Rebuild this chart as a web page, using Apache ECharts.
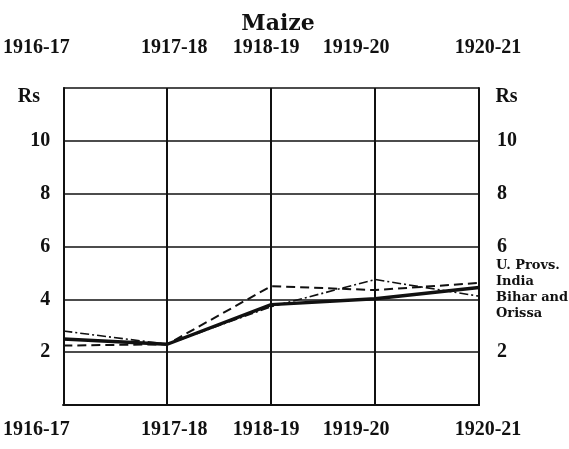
<!DOCTYPE html>
<html>
<head>
<meta charset="utf-8">
<script src="https://cdn.jsdelivr.net/npm/echarts@6/dist/echarts.min.js"></script>
<style>
html,body{margin:0;padding:0;background:#fff;}
#chart{width:569px;height:449px;}
</style>
</head>
<body>
<div id="chart"></div>
<script>
// ---- data ----
const titleText = 'Maize';
const years = ['1916-17', '1917-18', '1918-19', '1919-20', '1920-21'];
const unitLabel = 'Rs';
const seriesNames = ['U. Provs.', 'India', 'Bihar and\nOrissa'];
const uProvs = [2.25, 2.3, 4.5, 4.35, 4.62];
const india = [2.5, 2.3, 3.8, 4.02, 4.45];
const biharOrissa = [2.8, 2.3, 3.72, 4.75, 4.12];
const yTicks = [0, 2, 4, 6, 8, 10, 12];

// ---- styling helpers ----
const FONT = '"Liberation Serif", "DejaVu Serif", serif';
const INK = '#111';
// label nudges: [top, right, bottom, left] padding per label
const labelPad = [[0, 54, 0, 0], [0, 0, 0, 14], [0, 10, 0, 0], [0, 38, 0, 0], [0, 0, 0, 18]];
const rich = {};
years.forEach((y, i) => {
  rich['s' + i] = {padding: labelPad[i], fontFamily: FONT, fontWeight: 'bold', fontSize: 20, color: INK};
});
function yearFmt(v, i) { return '{s' + i + '|' + v + '}'; }

const chart = echarts.init(document.getElementById('chart'), null, {renderer: 'canvas'});
const baseX = {
  type: 'category',
  data: years,
  boundaryGap: false,
  axisLine: {show: true, lineStyle: {color: INK, width: 2}},
  axisTick: {show: false},
  splitLine: {show: true, lineStyle: {color: INK, width: 2}},
  axisLabel: {interval: 0, formatter: yearFmt, rich: rich, fontFamily: FONT, fontWeight: 'bold', fontSize: 20, color: INK}
};
const baseY = {
  type: 'value',
  min: yTicks[0],
  max: yTicks[yTicks.length - 1],
  interval: 2,
  name: unitLabel,
  nameLocation: 'end',
  nameGap: -19,
  axisLine: {show: true, lineStyle: {color: INK, width: 2}},
  axisTick: {show: false},
  splitLine: {show: true, lineStyle: {color: INK, width: 1.6}}
};

chart.setOption({
  animation: false,
  backgroundColor: '#fff',
  title: {
    text: titleText, left: 273, top: 8, textAlign: 'center',
    textStyle: {fontFamily: '"DejaVu Serif", serif', fontWeight: 'bold', fontSize: 22, color: INK}
  },
  legend: {
    orient: 'vertical', left: 486, top: 253, itemGap: 0, padding: 5,
    icon: 'none', itemWidth: 0, itemHeight: 0,
    selectedMode: false,
    textStyle: {fontFamily: '"DejaVu Serif", serif', fontWeight: 'bold', fontSize: 13, color: INK, lineHeight: 16},
    data: seriesNames
  },
  grid: {left: 63, right: 90, top: 88, bottom: 44},
  xAxis: [
    Object.assign({}, baseX, {position: 'bottom', axisLabel: Object.assign({}, baseX.axisLabel, {margin: 15})}),
    Object.assign({}, baseX, {position: 'top', splitLine: {show: false}, axisLabel: Object.assign({}, baseX.axisLabel, {margin: 30})})
  ],
  yAxis: [
    Object.assign({}, baseY, {
      position: 'left',
      nameTextStyle: {fontFamily: FONT, fontWeight: 'bold', fontSize: 20, color: INK, padding: [0, 69, 0, 0]},
      axisLabel: {margin: 13, fontFamily: FONT, fontWeight: 'bold', fontSize: 20, color: INK,
        formatter: v => (v === 0 || v === 12) ? '' : String(v)}
    }),
    Object.assign({}, baseY, {
      position: 'right',
      splitLine: {show: false},
      nameTextStyle: {fontFamily: FONT, fontWeight: 'bold', fontSize: 20, color: INK, padding: [0, 0, 0, 55]},
      axisLabel: {margin: 18, fontFamily: FONT, fontWeight: 'bold', fontSize: 20, color: INK,
        formatter: v => (v === 0 || v === 4 || v === 12) ? '' : String(v)}
    })
  ],
  series: [
    {name: seriesNames[0], type: 'line', data: uProvs, symbol: 'none', xAxisIndex: 0, yAxisIndex: 0,
      lineStyle: {color: INK, width: 2, type: [9, 5]}},
    {name: seriesNames[1], type: 'line', data: india, symbol: 'none', xAxisIndex: 0, yAxisIndex: 0,
      lineStyle: {color: INK, width: 3.4, type: 'solid'}},
    {name: seriesNames[2], type: 'line', data: biharOrissa, symbol: 'none', xAxisIndex: 0, yAxisIndex: 0,
      lineStyle: {color: INK, width: 1.6, type: [9, 3, 2, 3]}}
  ]
});
</script>
</body>
</html>
